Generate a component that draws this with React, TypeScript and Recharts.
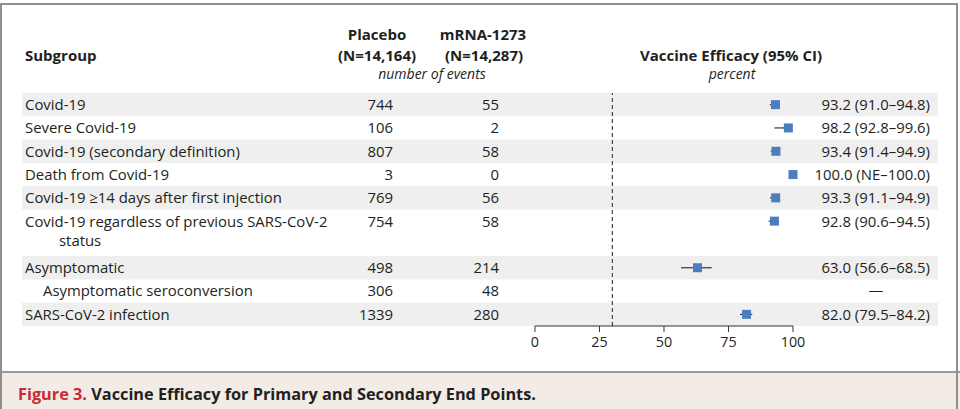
import React from "react";
import {
  ComposedChart,
  Scatter,
  XAxis,
  YAxis,
  ReferenceArea,
  ReferenceLine,
  ErrorBar,
} from "recharts";

const subgroups = [
  "Covid-19",
  "Severe Covid-19",
  "Covid-19 (secondary definition)",
  "Death from Covid-19",
  "Covid-19 ≥14 days after first injection",
  "Covid-19 regardless of previous SARS-CoV-2\nstatus",
  "Asymptomatic",
  "Asymptomatic seroconversion",
  "SARS-CoV-2 infection",
];
const isSubrow = [false, false, false, false, false, false, false, true, false];
const placeboEvents = ["744", "106", "807", "3", "769", "754", "498", "306", "1339"];
const mrnaEvents = ["55", "2", "58", "0", "56", "58", "214", "48", "280"];
const efficacy = [93.2, 98.2, 93.4, 100.0, 93.3, 92.8, 63.0, null, 82.0];
const ciLow = [91.0, 92.8, 91.4, null, 91.1, 90.6, 56.6, null, 79.5];
const ciHigh = [94.8, 99.6, 94.9, 100.0, 94.9, 94.5, 68.5, null, 84.2];
const efficacyText = [
  "93.2 (91.0–94.8)",
  "98.2 (92.8–99.6)",
  "93.4 (91.4–94.9)",
  "100.0 (NE–100.0)",
  "93.3 (91.1–94.9)",
  "92.8 (90.6–94.5)",
  "63.0 (56.6–68.5)",
  "—",
  "82.0 (79.5–84.2)",
];
const xTicks = [0, 25, 50, 75, 100];
const threshold = 30;

const FONT = "'Open Sans', 'Noto Sans', sans-serif";
const TEXT = "#231f20";
const ROW_FONT = 14.9;

// each row takes one slot per text line
const rowStart: number[] = [];
let acc = 0;
subgroups.forEach((s) => {
  rowStart.push(acc);
  acc += s.split("\n").length;
});
const totalSlots = acc;
const rowCenter = rowStart.map((s) => s + 0.5);
const rowEnd = subgroups.map((s, i) => rowStart[i] + s.split("\n").length);

const points = efficacy
  .map((v, i) => ({
    x: v,
    y: rowCenter[i],
    err: v != null && ciLow[i] != null ? [v - (ciLow[i] as number), (ciHigh[i] as number) - v] : null,
  }))
  .filter((p) => p.x != null);

function RowTick(props: any) {
  const { y, payload, index } = props;
  let i = rowCenter.indexOf(Number(payload?.value));
  if (i < 0) i = index;
  if (i == null || i < 0 || i >= subgroups.length) return null;
  const lines = subgroups[i].split("\n");
  const est = efficacyText[i];
  return (
    <g fontFamily={FONT} fontSize={ROW_FONT} fill={TEXT}>
      {lines.map((l, k) => (
        <text key={k} x={isSubrow[i] ? 43 : k > 0 ? 59 : 25} y={y + k * 19.5} dy="0.36em" textAnchor="start">
          {l}
        </text>
      ))}
      <text x={393} y={y} dy="0.36em" textAnchor="end">{placeboEvents[i]}</text>
      <text x={499} y={y} dy="0.36em" textAnchor="end">{mrnaEvents[i]}</text>
      <text x={est === "—" ? 876 : 930} y={y} dy="0.36em" textAnchor={est === "—" ? "middle" : "end"}>
        {est}
      </text>
    </g>
  );
}

const Square = (props: any) => {
  const { cx, cy } = props;
  return <rect x={cx - 4.5} y={cy - 4.5} width={9} height={9} fill="#4a7ebf" />;
};

const hdr: React.CSSProperties = {
  position: "absolute",
  transform: "translate(-50%, -50%)",
  whiteSpace: "nowrap",
  fontFamily: FONT,
  color: TEXT,
  lineHeight: 1,
};

export default function App() {
  return (
    <div style={{ position: "absolute", left: 0, top: 0, width: 960, height: 409, overflow: "hidden", background: "#fff" }}>
      <ComposedChart
        width={960}
        height={372}
        margin={{ top: 93, right: 22, bottom: 14, left: 2 }}
        style={{ position: "absolute", left: 0, top: 0 }}
      >
        <XAxis
          type="number"
          dataKey="x"
          domain={[-198.8, 156.2]}
          allowDataOverflow
          ticks={xTicks}
          interval={0}
          axisLine={false}
          tickLine={{ stroke: "#333" }}
          tickSize={6}
          tickMargin={5}
          height={32}
          tick={{ fill: TEXT, fontSize: 14.3, fontFamily: FONT }}
        />
        <YAxis
          type="number"
          dataKey="y"
          domain={[0, totalSlots]}
          reversed
          ticks={rowCenter}
          interval={0}
          width={20}
          axisLine={false}
          tickLine={false}
          tick={(p: any) => <RowTick {...p} />}
        />
        {subgroups.map((_, i) =>
          i % 2 === 0 ? (
            <ReferenceArea
              key={i}
              y1={rowStart[i]}
              y2={rowEnd[i]}
              fill="#efefef"
              fillOpacity={1}
              stroke="none"
            />
          ) : null
        )}
        <ReferenceLine x={threshold} stroke="#444" strokeDasharray="4 3" strokeWidth={1.2} />
        <ReferenceLine
          segment={[
            { x: xTicks[0], y: totalSlots },
            { x: xTicks[xTicks.length - 1], y: totalSlots },
          ]}
          stroke="#333"
        />
        <Scatter data={points} shape={<Square />} isAnimationActive={false}>
          <ErrorBar dataKey="err" direction="x" width={0} stroke="#333" strokeWidth={1.2} />
        </Scatter>
      </ComposedChart>

      <div style={{ ...hdr, left: 25, top: 55, transform: "translate(0, -50%)", fontWeight: 700, fontSize: 15 }}>Subgroup</div>
      <div style={{ ...hdr, left: 377, top: 34, fontWeight: 700, fontSize: 15 }}>Placebo</div>
      <div style={{ ...hdr, left: 377, top: 55, fontWeight: 700, fontSize: 15 }}>(N=14,164)</div>
      <div style={{ ...hdr, left: 483, top: 34, fontWeight: 700, fontSize: 15 }}>mRNA-1273</div>
      <div style={{ ...hdr, left: 484, top: 55, fontWeight: 700, fontSize: 15 }}>(N=14,287)</div>
      <div style={{ ...hdr, left: 432, top: 74, fontStyle: "italic", fontSize: 14 }}>number of events</div>
      <div style={{ ...hdr, left: 731, top: 55, fontWeight: 700, fontSize: 15 }}>Vaccine Efficacy (95% CI)</div>
      <div style={{ ...hdr, left: 732, top: 74, fontStyle: "italic", fontSize: 14 }}>percent</div>

      {/* caption */}
      <div
        style={{
          position: "absolute",
          left: 0,
          top: 371,
          width: 960,
          height: 40,
          background: "#f2ebe6",
          borderTop: "2px solid #999",
        }}
      />
      <div
        style={{
          ...hdr,
          left: 18,
          top: 394,
          transform: "translate(0, -50%)",
          fontWeight: 700,
          fontSize: 16.3,
        }}
      >
        <span style={{ color: "#cc2a36" }}>Figure 3.</span> Vaccine Efficacy for Primary and Secondary End Points.
      </div>

      {/* frame */}
      <div
        style={{
          position: "absolute",
          left: 0,
          top: 3,
          width: 954,
          height: 420,
          border: "2px solid #8f8f8f",
          boxSizing: "content-box",
          pointerEvents: "none",
        }}
      />
    </div>
  );
}
